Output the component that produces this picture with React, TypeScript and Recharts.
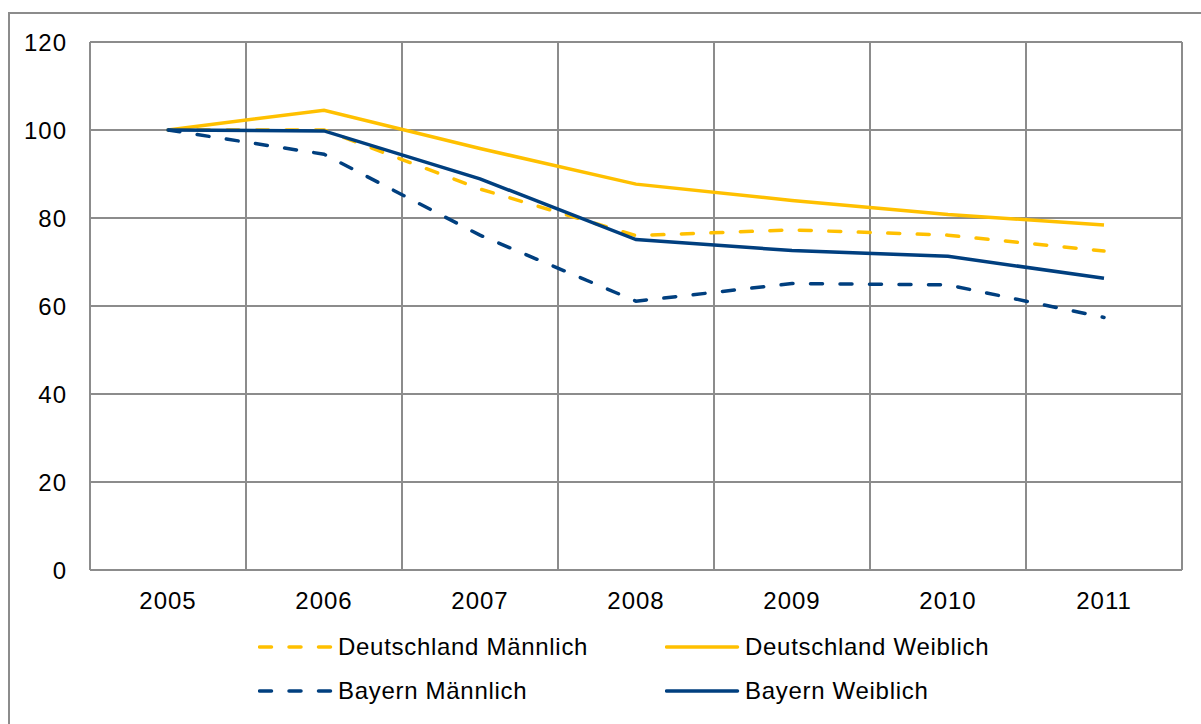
import React from "react";
import { LineChart, Line, XAxis, YAxis, CartesianGrid, Legend } from "recharts";

const years = [2005, 2006, 2007, 2008, 2009, 2010, 2011];
const deutschlandMaennlich = [100, 100, 86.6, 76.0, 77.3, 76.1, 72.5];
const deutschlandWeiblich = [100, 104.5, 95.8, 87.7, 84.0, 80.8, 78.4];
const bayernMaennlich = [100, 94.5, 76.1, 61.1, 65.1, 64.8, 57.4];
const bayernWeiblich = [100, 99.8, 88.9, 75.1, 72.6, 71.3, 66.3];
const yTicks = [0, 20, 40, 60, 80, 100, 120];

const YELLOW = "#FFC000";
const NAVY = "#003F7F";
const GRID = "#8C8C8C";
const FONT = "'Liberation Sans', Arial, sans-serif";

const data = years.map((year, i) => ({
  year,
  dm: deutschlandMaennlich[i],
  dw: deutschlandWeiblich[i],
  bm: bayernMaennlich[i],
  bw: bayernWeiblich[i],
}));

// grid lines sit between the categories, like in Excel
const gridTicks = [...years.map((y) => y - 0.5), years[years.length - 1] + 0.5];
const xDomain = [gridTicks[0], gridTicks[gridTicks.length - 1]];

const legendItems = [
  { name: "Deutschland Männlich", color: YELLOW, dashed: true },
  { name: "Deutschland Weiblich", color: YELLOW, dashed: false },
  { name: "Bayern Männlich", color: NAVY, dashed: true },
  { name: "Bayern Weiblich", color: NAVY, dashed: false },
];

const LegendBox = () => (
  <div style={{ position: "relative", width: 1201, height: 104 }}>
    {legendItems.map((item, i) => {
      const col = i % 2;
      const row = Math.floor(i / 2);
      return (
        <div
          key={item.name}
          style={{
            position: "absolute",
            left: col === 0 ? 258 : 665,
            top: row === 0 ? 13 : 57,
            height: 28,
            display: "flex",
            alignItems: "center",
            fontFamily: FONT,
            fontSize: 24,
            letterSpacing: 0.7,
            color: "#000",
            whiteSpace: "nowrap",
          }}
        >
          <svg width={80} height={28}>
            <line
              x1={1.5}
              x2={72.5}
              y1={14}
              y2={14}
              stroke={item.color}
              strokeWidth={3.5}
              strokeLinecap="round"
              strokeDasharray={item.dashed ? "12 17.5" : undefined}
            />
          </svg>
          <span>{item.name}</span>
        </div>
      );
    })}
  </div>
);

const tickStyle = { fontFamily: FONT, fontSize: 24, fill: "#000", letterSpacing: 1 };

const verticalLines = ({ xAxis, offset }: any) => {
  if (xAxis && typeof xAxis.scale === "function") {
    return gridTicks.map((t) => xAxis.scale(t));
  }
  return gridTicks.map(
    (t) => offset.left + ((t - xDomain[0]) / (xDomain[1] - xDomain[0])) * offset.width
  );
};

const App = () => {
  return (
    <div
      style={{
        position: "absolute",
        left: 0,
        top: 0,
        width: 1201,
        height: 724,
        overflow: "hidden",
        background: "#fff",
      }}
    >
      <div
        style={{
          position: "absolute",
          left: 8,
          top: 12,
          width: 1400,
          height: 900,
          border: "2px solid #8C8C8C",
        }}
      />
      <LineChart
        width={1201}
        height={724}
        data={data}
        margin={{ top: 42, right: 19, left: 0, bottom: 0 }}
        style={{ position: "absolute", left: 0, top: 0, fontFamily: FONT }}
      >
        <CartesianGrid
          stroke={GRID}
          strokeWidth={2}
          verticalCoordinatesGenerator={verticalLines}
        />
        <XAxis
          dataKey="year"
          type="number"
          domain={xDomain}
          ticks={years}
          interval={0}
          tick={tickStyle}
          tickLine={false}
          tickSize={0}
          tickMargin={22}
          axisLine={{ stroke: GRID, strokeWidth: 2 }}
          height={50}
        />
        <YAxis
          domain={[0, 120]}
          ticks={yTicks}
          interval={0}
          tick={tickStyle}
          tickLine={false}
          tickSize={0}
          tickMargin={23}
          axisLine={{ stroke: GRID, strokeWidth: 2 }}
          width={90}
        />
        <Legend
          verticalAlign="bottom"
          content={() => <LegendBox />}
          wrapperStyle={{ left: 0, bottom: 0, width: 1201, height: 104 }}
        />
        <Line
          dataKey="dm"
          name="Deutschland Männlich"
          stroke={YELLOW}
          strokeWidth={3.5}
          strokeDasharray="12 17.5"
          strokeLinecap="round"
          dot={false}
          activeDot={false}
          isAnimationActive={false}
        />
        <Line
          dataKey="dw"
          name="Deutschland Weiblich"
          stroke={YELLOW}
          strokeWidth={3.5}
          dot={false}
          activeDot={false}
          isAnimationActive={false}
        />
        <Line
          dataKey="bm"
          name="Bayern Männlich"
          stroke={NAVY}
          strokeWidth={3.5}
          strokeDasharray="12 17.5"
          strokeLinecap="round"
          dot={false}
          activeDot={false}
          isAnimationActive={false}
        />
        <Line
          dataKey="bw"
          name="Bayern Weiblich"
          stroke={NAVY}
          strokeWidth={3.5}
          dot={false}
          activeDot={false}
          isAnimationActive={false}
        />
      </LineChart>
    </div>
  );
};

export default App;
